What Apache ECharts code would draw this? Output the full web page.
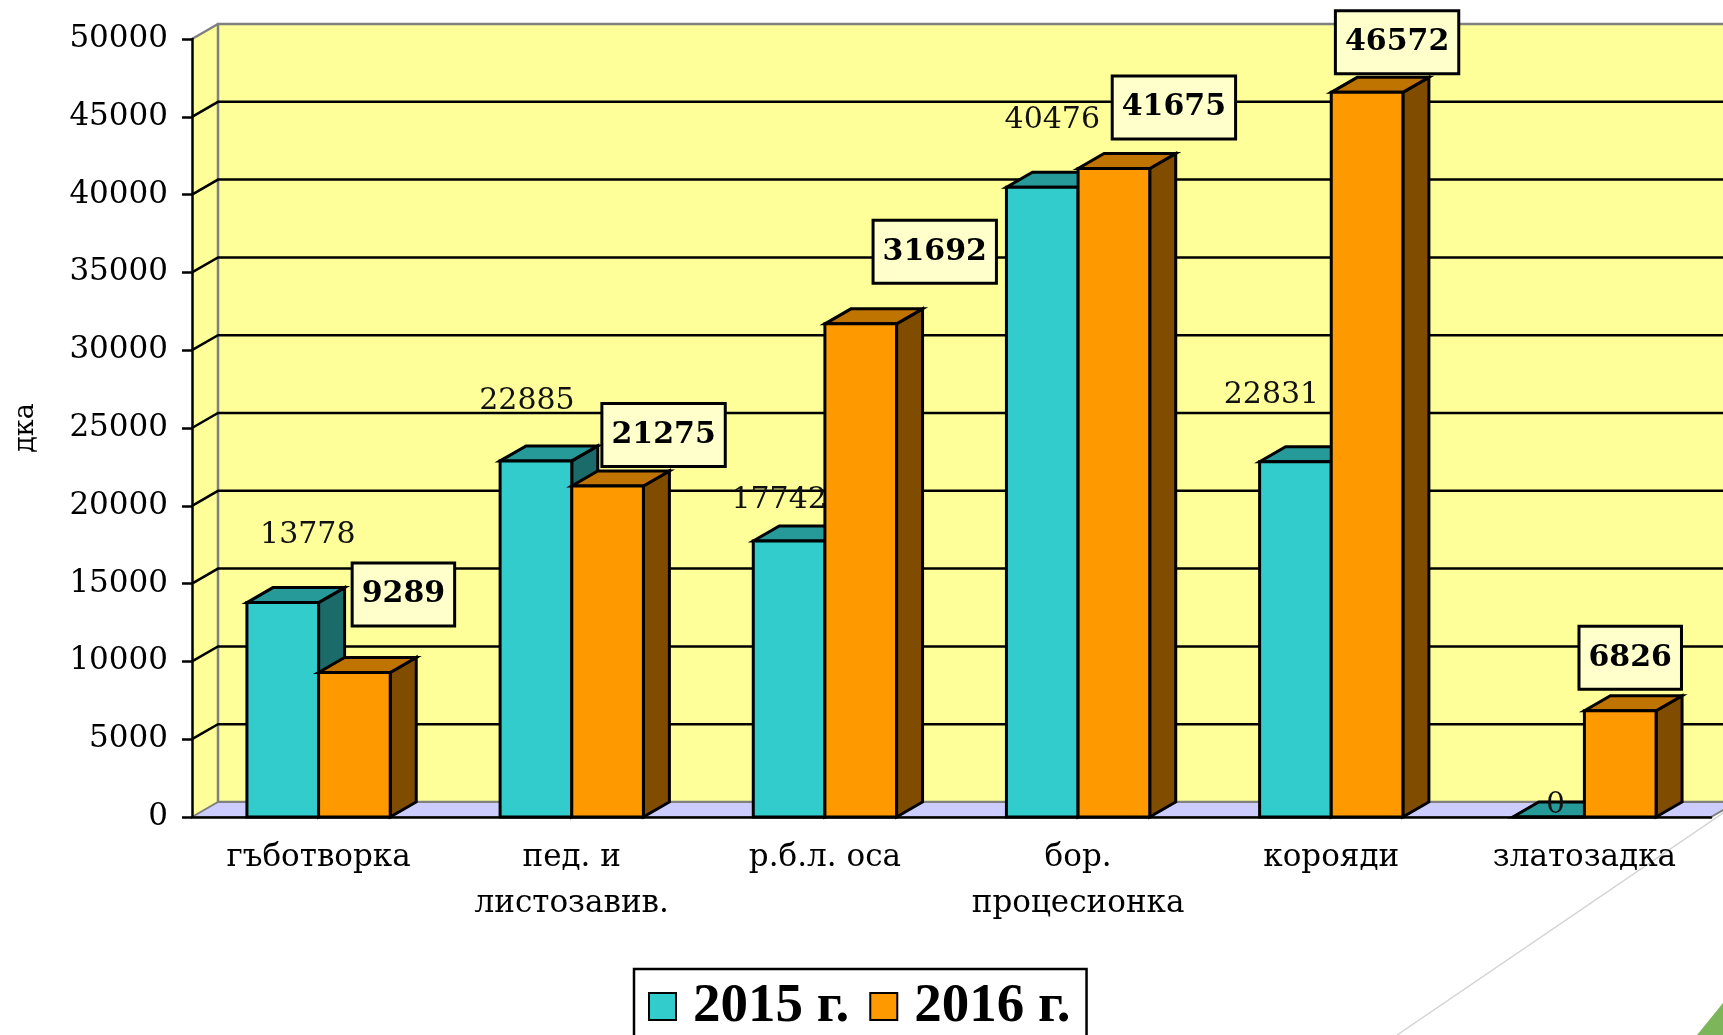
<!DOCTYPE html>
<html>
<head>
<meta charset="utf-8">
<script src="https://cdn.jsdelivr.net/npm/echarts@6/dist/echarts.min.js"></script>
<style>
  html, body { margin: 0; padding: 0; background: #fff; }
  #chart { width: 1723px; height: 1035px; }
</style>
</head>
<body>
<div id="chart"></div>
<script>
// data
const categories = ['гъботворка', 'пед. и\nлистозавив.', 'р.б.л. оса', 'бор.\nпроцесионка', 'корояди', 'златозадка'];
const values2015 = [13778, 22885, 17742, 40476, 22831, 0];
const values2016 = [9289, 21275, 31692, 41675, 46572, 6826];
const yTicks = [0, 5000, 10000, 15000, 20000, 25000, 30000, 35000, 40000, 45000, 50000];
const seriesNames = ['2015 г.', '2016 г.'];

// layout: label shifts from the top of each bar (hand placed in the original)
const lblShift2015 = [[25, -67], [-9, -60], [-10, -41], [10, -67], [-24, -67], [7, -12]];
const lblShift2016 = [[49, -78], [56, -51], [74, -72], [60, -61], [30, -50], [10, -53]];

const DX = 26, DY = -15;
const SERIF = '"DejaVu Serif", "Liberation Serif", serif';

const colors = [
    { front: '#33CCCC', top: '#269999', side: '#1C6B6B' },
    { front: '#FF9900', top: '#BF7300', side: '#7F4C00' }
];

function wallsItem(params, api) {
    const cs = params.coordSys;
    const L = cs.x, R = cs.x + cs.width;
    const yTop = api.coord([0, yTicks[yTicks.length - 1]])[1];
    const yBot = api.coord([0, 0])[1];
    const kids = [];
    // side wall
    kids.push({ type: 'polygon', shape: { points: [[L, yTop], [L + DX, yTop + DY], [L + DX, yBot + DY], [L, yBot]] },
        style: { fill: '#FFFF99' } });
    // back wall
    kids.push({ type: 'rect', shape: { x: L + DX, y: yTop + DY, width: R - L + 40, height: yBot - yTop },
        style: { fill: '#FFFF99', stroke: '#808080', lineWidth: 2.5 } });
    // floor
    kids.push({ type: 'polygon', shape: { points: [[L, yBot], [L + DX, yBot + DY], [R + DX, yBot + DY], [R, yBot]] },
        style: { fill: '#CCCCFF', stroke: '#808080', lineWidth: 2 } });
    kids.push({ type: 'line', shape: { x1: L, y1: yTop, x2: L + DX, y2: yTop + DY },
        style: { stroke: '#808080', lineWidth: 2.5 } });
    // grid lines
    for (let k = 1; k < yTicks.length - 1; k++) {
        const y = api.coord([0, yTicks[k]])[1];
        kids.push({ type: 'polyline', shape: { points: [[L, y], [L + DX, y + DY], [R + DX + 40, y + DY]] },
            style: { stroke: '#000', lineWidth: 2.5, fill: null } });
    }
    return { type: 'group', children: kids };
}

function makeBar(si) {
    return function (params, api) {
        const i = api.value(0), v = api.value(1);
        const base = api.coord([i, 0]);
        const top = api.coord([i, v]);
        const bw = api.size([1, 0])[0] * 0.283;
        const x0 = si === 0 ? base[0] - bw : base[0];
        const x1 = x0 + bw;
        const y0 = base[1], y1 = top[1];
        const c = colors[si];
        const st = { stroke: '#000', lineWidth: 3, lineJoin: 'miter' };
        const kids = [
            { type: 'polygon', shape: { points: [[x1, y1], [x1 + DX, y1 + DY], [x1 + DX, y0 + DY], [x1, y0]] },
                style: Object.assign({ fill: c.side }, st) },
            { type: 'polygon', shape: { points: [[x0, y1], [x0 + DX, y1 + DY], [x1 + DX, y1 + DY], [x1, y1]] },
                style: Object.assign({ fill: c.top }, st) },
            { type: 'rect', shape: { x: x0, y: y1, width: bw, height: y0 - y1 },
                style: Object.assign({ fill: c.front }, st) }
        ];
        const sh = si === 0 ? lblShift2015[i] : lblShift2016[i];
        const tx = (x0 + x1) / 2 + sh[0], ty = y1 + sh[1];
        if (si === 0) {
            kids.push({ type: 'text', z2: 50, style: { text: String(v), x: tx, y: ty, align: 'center', verticalAlign: 'middle',
                font: 'normal 30px ' + SERIF, fill: '#111' } });
        } else {
            kids.push({ type: 'text', z2: 50, style: { text: String(v), x: tx, y: ty, align: 'center', verticalAlign: 'middle',
                font: 'bold 30px ' + SERIF, fill: '#000', backgroundColor: '#FFFFCC', borderColor: '#000', borderWidth: 3,
                padding: [16, 8, 14, 8] } });
        }
        return { type: 'group', children: kids };
    };
}

const chart = echarts.init(document.getElementById('chart'));
chart.setOption({
    animation: false,
    backgroundColor: '#fff',
    grid: { left: 192, right: 12, top: 39, bottom: 218 },
    legend: {
        data: seriesNames,
        left: 634, top: 969,
        icon: 'rect',
        itemWidth: 27, itemHeight: 27, itemGap: 20,
        padding: [10, 16, 40, 14],
        borderColor: '#000', borderWidth: 2.5, backgroundColor: '#fff',
        textStyle: { fontFamily: '"Liberation Serif", serif', fontWeight: 'bold', fontSize: 55, color: '#000', padding: [0, 0, 0, 12] }
    },
    xAxis: {
        type: 'category',
        data: categories,
        z: 1,
        axisLine: { lineStyle: { color: '#000', width: 2.5 } },
        axisTick: { length: 10, lineStyle: { color: '#000', width: 2.5 } },
        axisLabel: { interval: 0, fontFamily: SERIF, fontSize: 31, color: '#000', margin: 18, lineHeight: 46 },
        splitLine: { show: false }
    },
    yAxis: {
        type: 'value',
        min: 0, max: 50000, interval: 5000,
        z: 1,
        name: 'дка',
        nameLocation: 'middle',
        nameRotate: 90,
        nameGap: 153,
        nameTextStyle: { fontFamily: SERIF, fontSize: 27, color: '#000' },
        axisLine: { show: true, lineStyle: { color: '#000', width: 2.5 } },
        axisTick: { show: true, length: 10, lineStyle: { color: '#000', width: 2.5 } },
        axisLabel: { fontFamily: SERIF, fontSize: 31, color: '#000', margin: 24, formatter: v => String(v) },
        splitLine: { show: false }
    },
    graphic: [
        { type: 'line', shape: { x1: 1397, y1: 1035, x2: 1723, y2: 813 }, style: { stroke: '#D4D4D4', lineWidth: 1.5 }, z: 0 },
        { type: 'polygon', shape: { points: [[1697, 1035], [1723, 1003], [1723, 1035]] }, style: { fill: '#7DB65A' }, z: 0 }
    ],
    series: [
        { name: 'walls', type: 'custom', z: 0, silent: true, renderItem: wallsItem, data: [[0, 0]], clip: false },
        { name: seriesNames[0], type: 'custom', z: 2, renderItem: makeBar(0), clip: false,
          itemStyle: { color: colors[0].front, borderColor: '#000', borderWidth: 2 },
          data: values2015.map((v, i) => [i, v]) },
        { name: seriesNames[1], type: 'custom', z: 3, renderItem: makeBar(1), clip: false,
          itemStyle: { color: colors[1].front, borderColor: '#000', borderWidth: 2 },
          data: values2016.map((v, i) => [i, v]) }
    ]
});
</script>
</body>
</html>
